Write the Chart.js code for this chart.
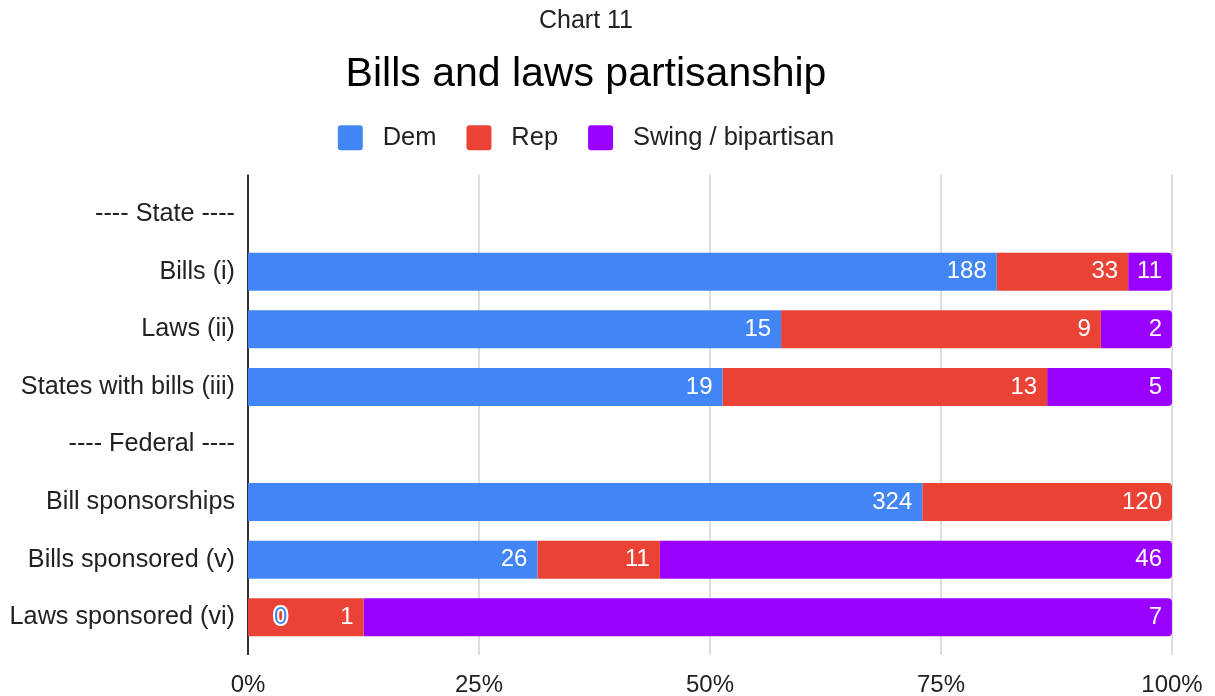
<!DOCTYPE html>
<html lang="en">
<head>
<meta charset="UTF-8" />
<title>Bills and laws partisanship</title>
<script src="https://cdn.jsdelivr.net/npm/chart.js"></script>
<style>
  html, body { margin: 0; padding: 0; background: #fff; }
  #wrap { width: 1215px; height: 696px; }
</style>
</head>
<body>
<div id="wrap"><canvas id="partisanChart"></canvas></div>
<script>
  // Counts per group (null = heading row / no data)
  const categories = ['---- State ----', 'Bills (i)', 'Laws (ii)', 'States with bills (iii)',
                      '---- Federal ----', 'Bill sponsorships', 'Bills sponsored (v)', 'Laws sponsored (vi)'];
  const dem   = [null, 188, 15, 19, null, 324, 26, 0];
  const rep   = [null,  33,  9, 13, null, 120, 11, 1];
  const swing = [null,  11,  2,  5, null, null, 46, 7];
  const xTicks = [0, 25, 50, 75, 100];

  const FONT = "'Liberation Sans', Arial, sans-serif";

  // 100% stacked: turn counts into share of the row total
  function rowTotal(i) {
    return (dem[i] || 0) + (rep[i] || 0) + (swing[i] || 0);
  }
  function toShare(values) {
    return values.map((v, i) => v == null ? null : 100 * v / rowTotal(i));
  }

  // value labels at the inner end of each segment
  const barLabels = {
    id: 'barLabels',
    afterDatasetsDraw(chart) {
      const ctx = chart.ctx;
      ctx.save();
      ctx.font = '24px ' + FONT;
      ctx.textBaseline = 'middle';
      chart.data.datasets.forEach((ds, di) => {
        const meta = chart.getDatasetMeta(di);
        meta.data.forEach((bar, i) => {
          const raw = ds.counts[i];
          if (raw == null) return;
          const text = String(raw);
          const w = ctx.measureText(text).width;
          if (bar.x - bar.base > w + 16) {
            ctx.textAlign = 'right';
            ctx.fillStyle = '#fff';
            ctx.fillText(text, bar.x - 10, bar.y);
          } else {
            // too thin: put it just past the bar, outlined
            ctx.textAlign = 'left';
            ctx.lineWidth = 4;
            ctx.lineJoin = 'round';
            ctx.strokeStyle = '#fff';
            ctx.strokeText(text, bar.x + 26, bar.y);
            ctx.fillStyle = ds.backgroundColor;
            ctx.fillText(text, bar.x + 26, bar.y);
          }
        });
      });
      ctx.restore();
    }
  };

  // vertical grid lines, a little taller than the plot area
  const gridLines = {
    id: 'gridLines',
    beforeDatasetsDraw(chart) {
      const {ctx, chartArea, scales: {x}} = chart;
      ctx.save();
      xTicks.forEach(t => {
        const px = Math.round(x.getPixelForValue(t));
        ctx.beginPath();
        ctx.strokeStyle = t === 0 ? '#333' : '#d2d2d2';
        ctx.lineWidth = t === 0 ? 2 : 1.5;
        ctx.moveTo(px, chartArea.top - 11);
        ctx.lineTo(px, chartArea.bottom + 9);
        ctx.stroke();
      });
      ctx.restore();
    }
  };

  // extra room between legend and plot
  const legendGap = {
    id: 'legendGap',
    beforeInit(chart) {
      const fit = chart.legend.fit;
      chart.legend.fit = function () {
        fit.call(this);
        this.height += 25;
      };
    }
  };

  const series = [
    {label: 'Dem', counts: dem, color: '#4285f4'},
    {label: 'Rep', counts: rep, color: '#ea4335'},
    {label: 'Swing / bipartisan', counts: swing, color: '#9900ff'}
  ];

  new Chart(document.getElementById('partisanChart'), {
    type: 'bar',
    data: {
      labels: categories,
      datasets: series.map(s => ({
        label: s.label,
        counts: s.counts,
        data: toShare(s.counts),
        backgroundColor: s.color,
        borderWidth: 0,
        borderRadius: 4,
        barPercentage: 0.66,
        categoryPercentage: 1
      }))
    },
    options: {
      indexAxis: 'y',
      responsive: true,
      maintainAspectRatio: false,
      animation: false,
      layout: { padding: { left: 0, right: 43, top: 0, bottom: 0 } },
      plugins: {
        title: {
          display: true,
          text: 'Chart 11',
          color: '#222',
          font: { family: FONT, size: 25, weight: 'normal' },
          padding: { top: 6, bottom: 20 }
        },
        subtitle: {
          display: true,
          text: 'Bills and laws partisanship',
          color: '#000',
          font: { family: FONT, size: 41, weight: 'normal', lineHeight: 0.9 },
          padding: { top: 0, bottom: 2 }
        },
        legend: {
          position: 'top',
          labels: {
            boxWidth: 25,
            boxHeight: 25,
            padding: 30,
            useBorderRadius: true,
            borderRadius: 3,
            color: '#222',
            font: { family: FONT, size: 25.5 },
            generateLabels: chart =>
              Chart.defaults.plugins.legend.labels.generateLabels(chart)
                .map(l => ({...l, text: ' ' + l.text}))
          }
        },
        tooltip: { enabled: false }
      },
      scales: {
        x: {
          stacked: true,
          min: 0,
          max: 100,
          grid: { display: false, drawTicks: false },
          border: { display: false },
          ticks: {
            stepSize: 25,
            padding: 25,
            color: '#222',
            font: { family: FONT, size: 24 },
            callback: v => v + '%'
          },
          afterFit: s => {
            s.height = 50;
            s.paddingRight = 0;
          }
        },
        y: {
          stacked: true,
          grid: { display: false, drawTicks: false },
          border: { display: false },
          ticks: {
            padding: 13,
            color: '#222',
            font: { family: FONT, size: 25.2 }
          },
          afterFit: s => { s.width = 248; }
        }
      }
    },
    plugins: [gridLines, barLabels, legendGap]
  });
</script>
</body>
</html>
